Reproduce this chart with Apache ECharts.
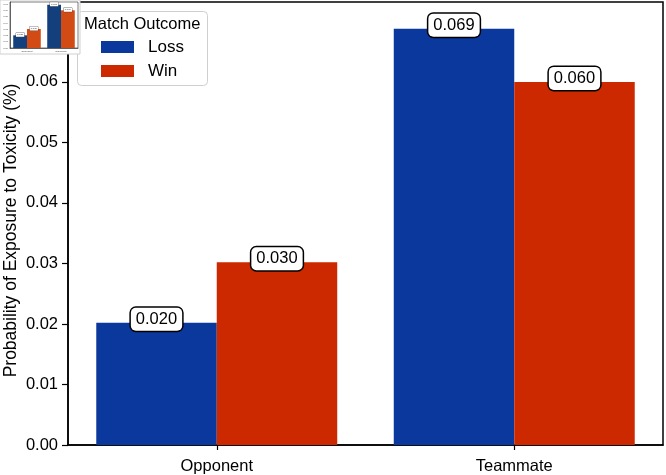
<!DOCTYPE html>
<html><head><meta charset="utf-8">
<script src="https://cdn.jsdelivr.net/npm/echarts@6/dist/echarts.min.js"></script>
<style>html,body{margin:0;padding:0;background:#fff}#c{width:666px;height:475px}</style>
</head><body><div id="c"></div>
<script>
const categories = ['Opponent', 'Teammate'];
const seriesNames = ['Loss', 'Win'];
const lossValues = [0.0202, 0.0688];
const winValues = [0.0302, 0.0600];
const lossLabels = ['0.020', '0.069'];
const winLabels = ['0.030', '0.060'];

const FONT = 'Liberation Sans, Arial, Helvetica, sans-serif';
const BLUE = '#0b389c', RED = '#cc2900';
const BLUE2 = '#133f7c', RED2 = '#d24b14';

const chart = echarts.init(document.getElementById('c'), null, {renderer: 'canvas'});

function mkLabel(texts) {
  return {
    show: true, position: 'top', distance: -8,
    formatter: p => texts[p.dataIndex],
    fontFamily: FONT, fontSize: 16.5, color: '#000',
    backgroundColor: '#fff', borderColor: '#000', borderWidth: 1.5, borderRadius: 5,
    padding: [3, 5, 3, 5]
  };
}
function miniLabel(texts) {
  return {show: true, position: 'top', distance: -1.5, formatter: p => texts[p.dataIndex],
          fontSize: 2.5, color: '#333', backgroundColor: '#fff', borderColor: '#333', borderWidth: 0.3,
          padding: [0.5, 1]};
}

const option = {
  animation: false,
  backgroundColor: '#fff',
  textStyle: {fontFamily: FONT},
  grid: [
    {left: 68, top: 2, right: 3, bottom: 30, show: true, borderColor: '#000', borderWidth: 1.5, z: 1,
     outerBoundsMode: 'none', containLabel: false},
    {left: 10, top: 2, width: 68, height: 46, show: true, borderColor: '#222', borderWidth: 0.6, z: 7,
     outerBoundsMode: 'none', containLabel: false}
  ],
  legend: {
    data: seriesNames, orient: 'vertical', left: 96, top: 33,
    itemWidth: 33, itemHeight: 12, itemGap: 6, icon: 'rect',
    textStyle: {fontFamily: FONT, fontSize: 17, color: '#000', lineHeight: 18, padding: [0, 0, 0, 9]},
    selectedMode: false, z: 5
  },
  graphic: [
    {type: 'rect', shape: {x: 77.5, y: 11.5, width: 130, height: 74, r: 4},
     style: {fill: '#fff', stroke: '#cfcfcf', lineWidth: 1}, z: 3},
    {type: 'text', left: 84, top: 16, style: {text: 'Match Outcome', font: '16.5px ' + FONT, fill: '#000'}, z: 5},
    {type: 'rect', shape: {x: 0, y: 0, width: 80, height: 54},
     style: {fill: '#fff', stroke: '#d0d0d0', lineWidth: 1}, z: 6}
  ],
  xAxis: [
    {type: 'category', data: categories, gridIndex: 0,
     axisLine: {lineStyle: {color: '#000', width: 1.5}},
     axisTick: {show: true, alignWithLabel: true, length: 5, lineStyle: {color: '#000', width: 1.2}},
     axisLabel: {fontFamily: FONT, fontSize: 16.5, color: '#000', margin: 13},
     z: 2},
    {type: 'category', data: categories, gridIndex: 1,
     axisLine: {lineStyle: {color: '#222', width: 0.6}},
     axisTick: {show: false},
     axisLabel: {fontFamily: FONT, fontSize: 2.5, color: '#444', margin: 2},
     z: 8}
  ],
  yAxis: [
    {type: 'value', gridIndex: 0, min: 0, max: 0.0732, interval: 0.01,
     name: 'Probability of Exposure to Toxicity (%)', nameLocation: 'middle', nameGap: 48,
     nameMoveOverlap: false,
     nameTextStyle: {fontFamily: FONT, fontSize: 17.5, color: '#000', padding: [0, 14, 0, 0]},
     axisLine: {show: true, lineStyle: {color: '#000', width: 1.5}},
     axisTick: {show: true, length: 6, lineStyle: {color: '#000', width: 1.2}},
     axisLabel: {fontFamily: FONT, fontSize: 16.5, color: '#000', margin: 10,
                 showMaxLabel: false, formatter: v => v.toFixed(2)},
     splitLine: {show: false}, z: 2},
    {type: 'value', gridIndex: 1, min: 0, max: 0.0732, interval: 0.01,
     axisLine: {show: true, lineStyle: {color: '#222', width: 0.6}},
     axisTick: {show: false},
     axisLabel: {fontFamily: FONT, fontSize: 2.5, color: '#444', margin: 2, showMaxLabel: false,
                 formatter: v => v.toFixed(2)},
     splitLine: {show: false}, z: 8}
  ],
  series: [
    {name: 'Loss', type: 'bar', data: lossValues, xAxisIndex: 0, yAxisIndex: 0,
     barGap: '0%', barCategoryGap: '19%', itemStyle: {color: BLUE}, label: mkLabel(lossLabels), z: 2},
    {name: 'Win', type: 'bar', data: winValues, xAxisIndex: 0, yAxisIndex: 0,
     barGap: '0%', barCategoryGap: '19%', itemStyle: {color: RED}, label: mkLabel(winLabels), z: 2},
    {name: 'Loss', type: 'bar', data: lossValues, xAxisIndex: 1, yAxisIndex: 1, silent: true,
     barGap: '0%', barCategoryGap: '19%', itemStyle: {color: BLUE2}, z: 8, label: miniLabel(lossLabels)},
    {name: 'Win', type: 'bar', data: winValues, xAxisIndex: 1, yAxisIndex: 1, silent: true,
     barGap: '0%', barCategoryGap: '19%', itemStyle: {color: RED2}, z: 8, label: miniLabel(winLabels)}
  ]
};
chart.setOption(option);
</script>
</body></html>
